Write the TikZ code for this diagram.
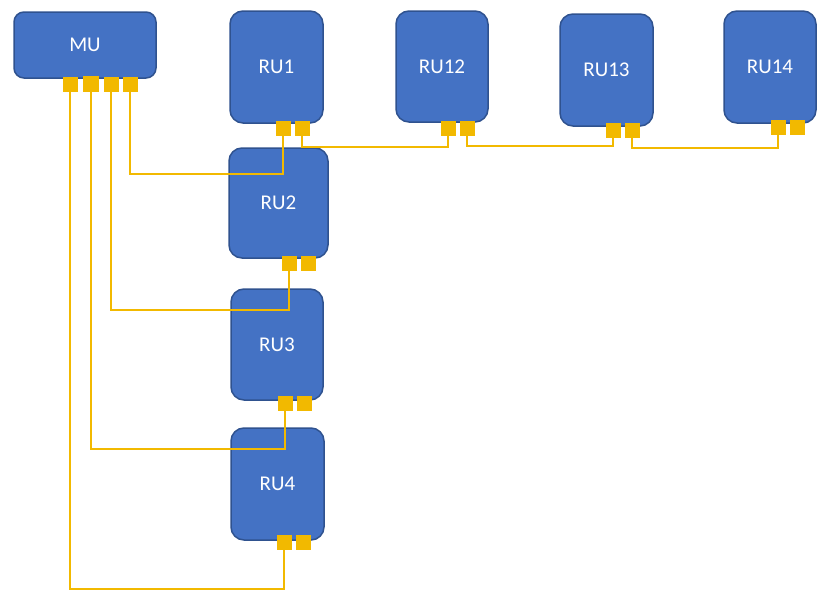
\documentclass[tikz,border=0pt]{standalone}
\usepackage{fontspec}
\setmainfont{Carlito}
\definecolor{boxblue}{RGB}{68,114,196}
\definecolor{boxedge}{RGB}{47,82,143}
\definecolor{gold}{RGB}{242,185,0}
\tikzset{
  unit/.style={draw=boxedge, fill=boxblue, line width=1.5pt, rounded corners=13pt, text=white, font=\fontsize{21}{24}\selectfont, inner sep=0pt},
  port/.style={fill=gold, draw=none, minimum width=15pt, minimum height=15pt, inner sep=0pt},
  link/.style={draw=gold, line width=2pt}
}
\begin{document}
\begin{tikzpicture}[x=1pt,y=-1pt]
\useasboundingbox (0,0) rectangle (836,597);
% units
\node[unit, rounded corners=10pt, minimum width=142pt, minimum height=66pt] (mu) at (85,45) {MU};
\node[unit, minimum width=93pt, minimum height=112pt] (ru1) at (276.5,67) {RU1};
\node[unit, minimum width=92pt, minimum height=111pt] (ru12) at (442,66.5) {RU12};
\node[unit, minimum width=93pt, minimum height=112pt] (ru13) at (606.5,70) {RU13};
\node[unit, minimum width=92pt, minimum height=112pt] (ru14) at (770,67) {RU14};
\node[unit, minimum width=99pt, minimum height=110pt] (ru2) at (278.5,203) {RU2};
\node[unit, minimum width=92pt, minimum height=111pt] (ru3) at (277,344.5) {RU3};
\node[unit, minimum width=93pt, minimum height=112pt] (ru4) at (277.5,484) {RU4};
% ports
\node[port] (mup1) at (70,84) {};
\node[port, minimum width=16pt, minimum height=16pt] (mup2) at (91,84) {};
\node[port] (mup3) at (111,84) {};
\node[port] (mup4) at (130,84) {};
\node[port] (ru1p1) at (283,128.5) {};
\node[port] (ru1p2) at (302,128.5) {};
\node[port] (ru12p1) at (448,128.5) {};
\node[port] (ru12p2) at (467,128.5) {};
\node[port] (ru13p1) at (613,130) {};
\node[port] (ru13p2) at (632,130) {};
\node[port] (ru14p1) at (778,127) {};
\node[port] (ru14p2) at (797.5,127) {};
\node[port] (ru2p1) at (289,263.5) {};
\node[port] (ru2p2) at (308.5,263.5) {};
\node[port] (ru3p1) at (285,403) {};
\node[port] (ru3p2) at (304.5,403) {};
\node[port] (ru4p1) at (284,542.5) {};
\node[port] (ru4p2) at (303.5,542.5) {};
% bend points
\coordinate (b1) at (130,174);
\coordinate (b2) at (111,310);
\coordinate (b3) at (91,449);
\coordinate (b4) at (70,589);
\coordinate (c1) at (448,147);
\coordinate (c2) at (613,146);
\coordinate (c3) at (778,148);
% links
\draw[link] (ru1p1.south) |- (b1) -- (mup4.south);
\draw[link] (ru2p1.south) |- (b2) -- (mup3.south);
\draw[link] (ru3p1.south) |- (b3) -- (mup2.south);
\draw[link] (ru4p1.south) |- (b4) -- (mup1.south);
\draw[link] (ru1p2.south) |- (c1) -- (ru12p1.south);
\draw[link] (ru12p2.south) |- (c2) -- (ru13p1.south);
\draw[link] (ru13p2.south) |- (c3) -- (ru14p1.south);
\end{tikzpicture}
\end{document}
